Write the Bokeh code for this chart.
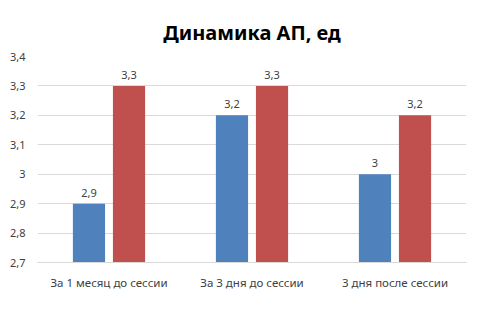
from bokeh.plotting import figure
from bokeh.models import (ColumnDataSource, FactorRange, Range1d, FixedTicker,
                          CustomJSTickFormatter, Legend, LegendItem)
from bokeh.transform import dodge
from bokeh.core.properties import value
from bokeh.embed import file_html
from bokeh.resources import INLINE

categories = ["За 1 месяц до сессии", "За 3 дня до сессии", "3 дня после сессии"]
series_names = ["Занимающиеся спортом", "Не занимающиеся спортом"]
sport = [2.9, 3.2, 3.0]
no_sport = [3.3, 3.3, 3.2]
y_ticks = [2.7, 2.8, 2.9, 3.0, 3.1, 3.2, 3.3, 3.4]
title_text = "Динамика АП, ед"

FONT = "Noto Sans"
BLUE = "#4F81BD"
RED = "#C0504D"
TXT = "#404040"


def fmt(v):
    s = ("%.1f" % v).rstrip("0").rstrip(".")
    return s.replace(".", ",")


src = ColumnDataSource(dict(
    cat=categories,
    sport=sport,
    no_sport=no_sport,
    sport_lbl=[fmt(v) for v in sport],
    no_sport_lbl=[fmt(v) for v in no_sport],
))

p = figure(width=None, height=None, frame_width=429, frame_height=206,
           output_backend="svg", toolbar_location=None,
           x_range=FactorRange(factors=categories, range_padding=0),
           y_range=Range1d(2.7, 3.4),
           min_border_left=37, min_border_right=14, min_border_top=56,
           min_border_bottom=0)

p.title.text = title_text
p.title.align = "center"
p.title.text_font = FONT
p.title.text_font_size = "20px"
p.title.text_font_style = "bold"
p.title.text_color = "#000000"
p.title.standoff = 22

p.outline_line_color = None
p.xgrid.grid_line_color = None
p.ygrid.grid_line_color = "#D9D9D9"
p.ygrid.ticker = FixedTicker(ticks=y_ticks)

p.yaxis.ticker = FixedTicker(ticks=y_ticks)
p.yaxis.formatter = CustomJSTickFormatter(
    code="var s = (Math.round(tick*10)/10).toString(); return s.replace('.', ',');")
p.yaxis.axis_line_color = None
p.yaxis.major_tick_line_color = None
p.yaxis.minor_tick_line_color = None
p.yaxis.major_label_text_font = FONT
p.yaxis.major_label_text_font_size = "11px"
p.yaxis.major_label_text_color = TXT
p.yaxis.major_label_standoff = 6

p.xaxis.axis_line_color = "#D9D9D9"
p.xaxis.major_tick_line_color = None
p.xaxis.minor_tick_line_color = None
p.xaxis.major_label_text_font = FONT
p.xaxis.major_label_text_font_size = "11.5px"
p.xaxis.major_label_text_color = TXT
p.xaxis.major_label_standoff = 6

w = 0.225
off = 0.14
r1 = p.vbar(x=dodge("cat", -off, range=p.x_range), top="sport", bottom=2.7, width=w,
            source=src, fill_color=BLUE, line_color=None)
r2 = p.vbar(x=dodge("cat", off, range=p.x_range), top="no_sport", bottom=2.7, width=w,
            source=src, fill_color=RED, line_color=None)

p.text(x=dodge("cat", -off, range=p.x_range), y="sport", text="sport_lbl", source=src,
       text_align="center", text_baseline="bottom", y_offset=-7,
       text_font=value(FONT), text_font_size="11px", text_color=TXT)
p.text(x=dodge("cat", off, range=p.x_range), y="no_sport", text="no_sport_lbl", source=src,
       text_align="center", text_baseline="bottom", y_offset=-7,
       text_font=value(FONT), text_font_size="11px", text_color=TXT)

legend = Legend(items=[LegendItem(label=series_names[0], renderers=[r1]),
                       LegendItem(label=series_names[1], renderers=[r2])],
                orientation="horizontal", location="top_center",
                glyph_width=8, glyph_height=8, label_standoff=3, spacing=62,
                label_text_font=FONT, label_text_font_size="11.5px",
                label_text_color=TXT, border_line_color=None,
                background_fill_alpha=0, margin=4, padding=4)
p.add_layout(legend, "below")

open("out.html", "w").write(file_html(p, INLINE))
